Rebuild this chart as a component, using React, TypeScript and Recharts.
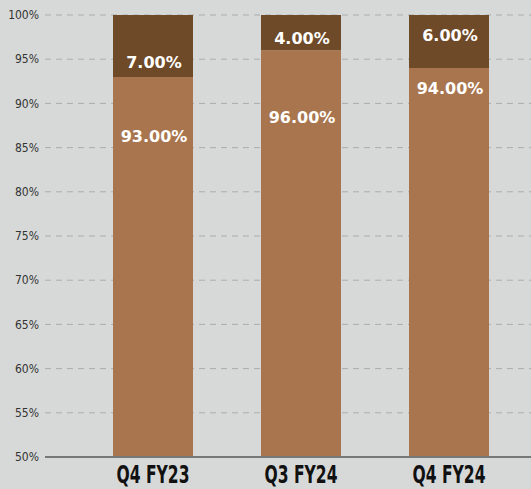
import React from "react";
import {
  BarChart,
  Bar,
  XAxis,
  YAxis,
  CartesianGrid,
  LabelList,
} from "recharts";

const quarters = ["Q4 FY23", "Q3 FY24", "Q4 FY24"];
const lowerShare = [93, 96, 94];
const upperShare = [7, 4, 6];
const yTicks = [50, 55, 60, 65, 70, 75, 80, 85, 90, 95, 100];

// how far below each segment's top the label sits (px)
const lowerLabelDy = [60, 67, 20];
const upperLabelDy = [47, 23, 20];

const data = quarters.map((q, i) => ({
  name: q,
  lower: lowerShare[i],
  upper: upperShare[i],
}));

const makeLabel =
  (dys: number[]) =>
  (props: any) => {
    const { x, y, width, value, index } = props;
    return (
      <text
        x={x + width / 2 + 1}
        y={y + dys[index]}
        textAnchor="middle"
        dominantBaseline="central"
        fill="#ffffff"
        fontFamily="'DejaVu Sans', sans-serif"
        fontWeight={700}
        fontSize={16}
      >
        {`${Number(value).toFixed(2)}%`}
      </text>
    );
  };

function QuarterTick(props: any) {
  const { x, y, payload } = props;
  return (
    <text
      x={x}
      y={y + 10}
      textAnchor="middle"
      dominantBaseline="central"
      fill="#111111"
      fontFamily="'DejaVu Sans', sans-serif"
      fontWeight={700}
      fontSize={24}
      textLength={73}
      lengthAdjust="spacingAndGlyphs"
    >
      {payload.value}
    </text>
  );
}

export default function App() {
  return (
    <div
      style={{
        position: "absolute",
        left: 0,
        top: 0,
        width: 531,
        height: 489,
        background: "#d7d9d8",
      }}
    >
      <BarChart
        width={531}
        height={489}
        data={data}
        margin={{ top: 15, right: 0, bottom: 0, left: 0 }}
        barCategoryGap={34}
      >
        <CartesianGrid
          vertical={false}
          stroke="#abadac"
          strokeDasharray="6 5"
        />
        <XAxis
          dataKey="name"
          height={32}
          axisLine={{ stroke: "#777777", strokeWidth: 2 }}
          tickLine={false}
          padding={{ left: 34, right: 8 }}
          tick={<QuarterTick />}
        />
        <YAxis
          width={45}
          domain={[50, 100]}
          ticks={yTicks}
          allowDataOverflow
          axisLine={false}
          tickLine={false}
          tickSize={4}
          tickFormatter={(v) => `${v}%`}
          tick={{
            fill: "#333333",
            fontSize: 12,
            fontFamily: "'DejaVu Sans Condensed', 'DejaVu Sans', sans-serif",
          }}
        />
        <Bar dataKey="lower" stackId="a" fill="#a9754e" isAnimationActive={false}>
          <LabelList dataKey="lower" content={makeLabel(lowerLabelDy)} />
        </Bar>
        <Bar dataKey="upper" stackId="a" fill="#6f4a28" isAnimationActive={false}>
          <LabelList dataKey="upper" content={makeLabel(upperLabelDy)} />
        </Bar>
      </BarChart>
    </div>
  );
}
